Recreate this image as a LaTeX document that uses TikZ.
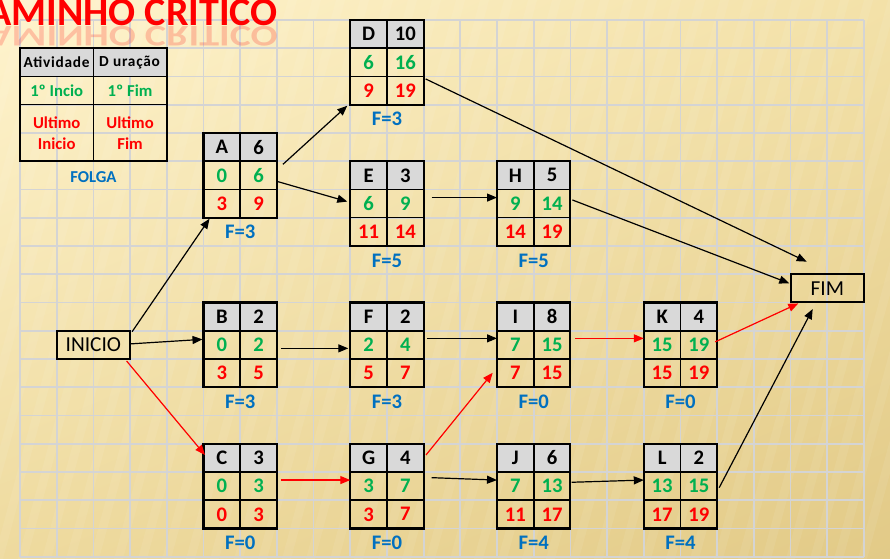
\documentclass[tikz,border=0pt]{standalone}
\usepackage{fontspec}
\setmainfont{Carlito}
\usetikzlibrary{arrows.meta, shadings}
\definecolor{cedo}{RGB}{0, 176, 80}
\definecolor{tarde}{RGB}{255, 0, 0}
\definecolor{folga}{RGB}{0, 112, 192}
\definecolor{cab}{RGB}{217, 217, 217}
\definecolor{grade}{RGB}{212, 212, 212}
\definecolor{fa}{RGB}{255, 244, 206}
\definecolor{fb}{RGB}{243, 225, 168}
\definecolor{fc}{RGB}{238, 218, 158}
\definecolor{fd}{RGB}{226, 202, 135}

\tikzset{
  num/.style={font=\fontsize{15.5}{18}\selectfont\bfseries},
  leg/.style={font=\fontsize{12.5}{15.5}\selectfont\bfseries, align=center},
  legcab/.style={font=\fontsize{11.5}{14}\selectfont\bfseries\addfontfeature{LetterSpace=5}},
  borda/.style={line width=1.6pt},
  miolo/.style={line width=1.2pt},
  caixa/.style={draw, borda, minimum width=55.05pt, minimum height=63.55pt, inner sep=0pt, outer sep=0pt},
  rotulo/.style={draw, line width=1.4pt, minimum width=55.05pt, minimum height=21.19pt, inner sep=0pt, outer sep=0pt, font=\fontsize{16}{18}\selectfont},
  titulo/.style={font=\fontsize{30}{32}\selectfont\bfseries, text=tarde, inner sep=0pt},
  seta/.style={line width=0.9pt, -{Triangle[length=7.5pt, width=6pt]}},
  crit/.style={seta, draw=tarde, fill=tarde},
}

% x, y, nome, letra, duracao, 1o inicio, 1o fim, ultimo inicio, ultimo fim
\newcommand{\atividade}[9]{%
  \begin{scope}[shift={(#1,#2)}]
    \fill[cab] (0,0) rectangle (73.4,28.25);
    \draw[miolo] (36.7,0) -- (36.7,84.74) (0,28.25) -- (73.4,28.25) (0,56.5) -- (73.4,56.5);
    \node[caixa] (#3) at (36.7,42.37) {};
    \node[num] at (18.35,14.12) {#4};
    \node[num] at (55.05,14.12) {#5};
    \node[num, text=cedo] at (18.35,42.37) {#6};
    \node[num, text=cedo] at (55.05,42.37) {#7};
    \node[num, text=tarde] at (18.35,70.6) {#8};
    \node[num, text=tarde] at (55.05,70.6) {#9};
    \node[num, text=folga] at (36.7,99.2) {F=\the\numexpr#8-#6\relax};
  \end{scope}}

\begin{document}
\begin{tikzpicture}[x=0.75pt, y=-0.75pt]
    \useasboundingbox (0,0) rectangle (890,559);
    \shade[upper left=fa, upper right=fb, lower left=fc, lower right=fd] (0,0) rectangle (890,559);
    % listras do fundo
    \foreach \s in {0,...,42}
        \fill[white, opacity=0.07] ({\s*24-150},559) -- ++(9,0) -- ++(150,-559) -- ++(-9,0) -- cycle;
    \draw[grade, line width=1.3pt, shift={(20,20)}, xstep=27.522pt, ystep=21.18525pt] (0,0) grid (844.3,536.9);

    % titulo
    \node[titulo, anchor=base east] (tit) at (278,25.5) {CAMINHO CRITICO};
    \node[titulo, anchor=base east, text opacity=0.2] (ref) at (278,26.5) {\scalebox{1}[-0.75]{CAMINHO CRITICO}};

    % legenda
    \fill[cab] (20,48.25) rectangle (166.8,76.5);
    \draw[miolo] (93.4,48.25) -- (93.4,161.2) (20,76.5) -- (166.8,76.5) (20,104.7) -- (166.8,104.7);
    \draw[borda] (20,48.25) rectangle (166.8,161.2);
    \node[legcab] (l1) at (56.7,62.4) {Atividade};
    \node[legcab] (l2) at (129.6,62.4) {D uração};
    \node[leg, text=cedo] (l3) at (56.7,90.6) {1º Incio};
    \node[leg, text=cedo] (l4) at (130.1,90.6) {1º Fim};
    \node[leg, text=tarde] (l5) at (56.7,133) {Ultimo\\Inicio};
    \node[leg, text=tarde] (l6) at (130.1,133) {Ultimo\\Fim};
    \node[leg, text=folga] (l7) at (93.4,177) {FOLGA};

    % atividades
    \atividade{203.5}{133.0}{a}{A}{6}{0}{6}{3}{9}
    \atividade{350.3}{20.0}{d}{D}{10}{6}{16}{9}{19}
    \atividade{350.3}{161.2}{e}{E}{3}{6}{9}{11}{14}
    \atividade{497.0}{161.2}{h}{H}{5}{9}{14}{14}{19}
    \atividade{203.5}{302.5}{b}{B}{2}{0}{2}{3}{5}
    \atividade{350.3}{302.5}{f}{F}{2}{2}{4}{5}{7}
    \atividade{497.0}{302.5}{i}{I}{8}{7}{15}{7}{15}
    \atividade{643.8}{302.5}{k}{K}{4}{15}{19}{15}{19}
    \atividade{203.5}{443.7}{c}{C}{3}{0}{3}{0}{3}
    \atividade{350.3}{443.7}{g}{G}{4}{3}{7}{3}{7}
    \atividade{497.0}{443.7}{j}{J}{6}{7}{13}{11}{17}
    \atividade{643.8}{443.7}{l}{L}{2}{13}{15}{17}{19}

    \node[rotulo] (ini) at (93.4,344.85) {INICIO};
    \node[rotulo] (fim) at (827.3,288.3) {FIM};

    % ligacoes
    \draw[seta] ([shift={(6,-11)}]a.east) -- ([shift={(-3,1)}]d.south west);
    \draw[seta] ([shift={(0,6)}]a.east) -- ([shift={(-3,-2)}]e.west);
    \draw[seta] ([shift={(2,16.6)}]d.east) -- ([shift={(-20.6,-12.5)}]fim.north);
    \draw[seta] ([shift={(8,-6)}]e.east) -- ([shift={(0,-6)}]h.west);
    \draw[seta] ([shift={(2,-3.6)}]h.east) -- ([shift={(-1.3,-5)}]fim.west);
    \draw[seta] ([shift={(2,1)}]ini.north east) -- ([shift={(6,1)}]a.south west);
    \draw[seta] ([shift={(1,-1)}]ini.east) -- ([shift={(-1,-5.5)}]b.west);
    \draw[crit] ([shift={(-3.5,2)}]ini.south east) -- ([shift={(1.5,11.3)}]c.north west);
    \draw[seta] ([shift={(4,3.5)}]b.east) -- ([shift={(-2,3.5)}]f.west);
    \draw[seta] ([shift={(3.6,-6.5)}]f.east) -- ([shift={(0,-6.5)}]i.west);
    \draw[crit] ([shift={(4.6,-6.5)}]i.east) -- ([shift={(0,-6.5)}]k.west);
    \draw[crit] ([shift={(-2,-3)}]k.east) -- ([shift={(7.7,1)}]fim.south west);
    \draw[seta] ([shift={(2,1.6)}]l.east) -- ([shift={(-14.6,6.6)}]fim.south);
    \draw[crit] ([shift={(4,-6)}]c.east) -- ([shift={(0,-6)}]g.west);
    \draw[crit] ([shift={(2.3,11.3)}]g.north east) -- ([shift={(-4.3,-14.5)}]i.south west);
    \draw[seta] ([shift={(8,-8.4)}]g.east) -- ([shift={(0,-6)}]j.west);
    \draw[seta] ([shift={(1.3,-3.8)}]j.east) -- ([shift={(0,-6)}]l.west);
\end{tikzpicture}
\end{document}
